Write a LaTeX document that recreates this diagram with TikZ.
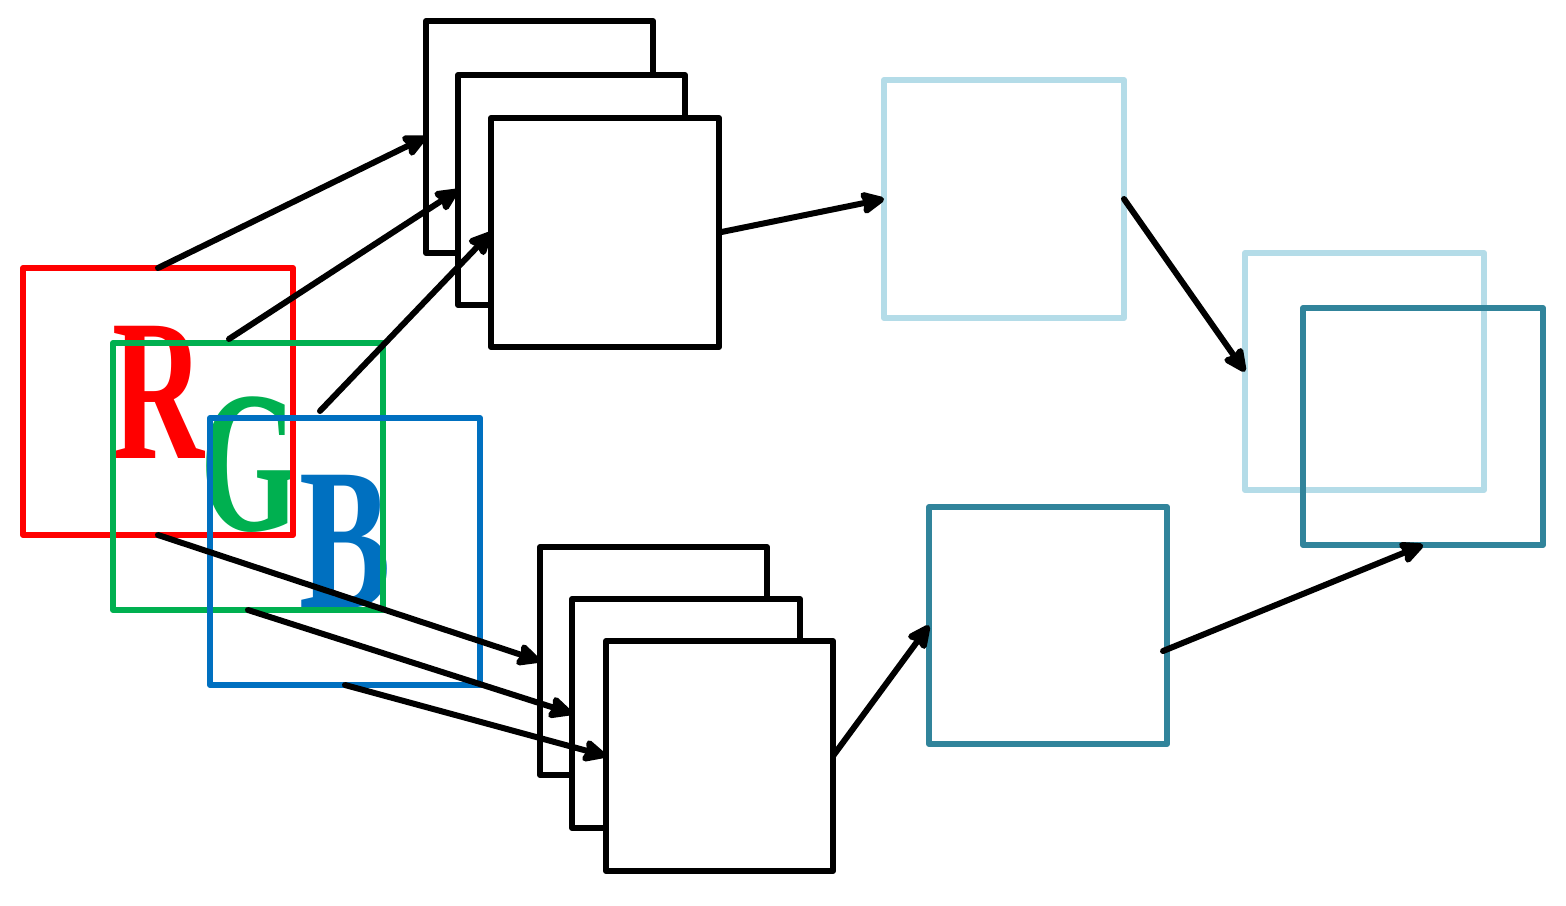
\documentclass[tikz,border=0pt]{standalone}
\usepackage{fontspec}
\setmainfont{Liberation Serif}
\newfontfamily\letterfont{Liberation Serif Bold}
\usetikzlibrary{fit,arrows.meta}
\definecolor{cred}{HTML}{FF0000}
\definecolor{cgreen}{HTML}{00B050}
\definecolor{cblue}{HTML}{0070C0}
\definecolor{clight}{HTML}{B4DCE8}
\definecolor{cteal}{HTML}{31849B}
\tikzset{
  box/.style={draw, line width=3pt, inner sep=0pt, outer sep=0pt, line join=round, fill=white},
  obox/.style={draw, line width=3pt, inner sep=0pt, outer sep=0pt, line join=round},
  arr/.style={draw, line width=3pt, line cap=round, -{Stealth[length=14pt,width=13pt,inset=2pt,round]}},
  letter/.style={inner sep=0pt, anchor=base, font=\fontsize{101}{101}\letterfont},
}
\begin{document}
\begin{tikzpicture}[x=0.5pt,y=-0.5pt]
\useasboundingbox (0,0) rectangle (1566,905);
% letters (under the boxes)
\node[letter, text=cred] (R) at (158,458) {\scalebox{0.63}[1]{R}};
\node[letter, text=cgreen] (G) at (250,530) {\scalebox{0.63}[1]{G}};
\node[letter, text=cblue] (B) at (345,607) {\scalebox{0.68}[1]{B}};
% RGB boxes
\node[obox, draw=cred, fit={(23,268) (293,535)}] (red) {};
\node[obox, draw=cgreen, fit={(113,343) (383,610)}] (green) {};
\node[obox, draw=cblue, fit={(210,418) (480,685)}] (blue) {};
% top stack
\node[box, fit={(426,21) (653,253)}] (t1) {};
\node[box, fit={(458,75) (685,305)}] (t2) {};
\node[box, fit={(491,118) (719,347)}] (t3) {};
% bottom stack
\node[box, fit={(540,547) (767,775)}] (b1) {};
\node[box, fit={(572,599) (800,828)}] (b2) {};
\node[box, fit={(606,641) (833,871)}] (b3) {};
% coloured boxes
\node[obox, draw=clight, fit={(884,80) (1124,318)}] (lb) {};
\node[obox, draw=cteal, fit={(929,507) (1167,744)}] (bt) {};
\node[obox, draw=clight, fit={(1245,253) (1484,490)}] (rlb) {};
\node[obox, draw=cteal, fit={(1303,308) (1543,545)}] (rt) {};
% arrow start points
\coordinate (s2) at (229,339);
\coordinate (s3) at (320,411);
\coordinate (s10) at (1163,651);
% arrows
\draw[arr] (red.north) -- (t1.west);
\draw[arr] (s2) -- (t2.west);
\draw[arr] (s3) -- (t3.west);
\draw[arr] (t3.east) -- (lb.west);
\draw[arr] (lb.east) -- (rlb.west);
\draw[arr] (red.south) -- (b1.west);
\draw[arr] (green.south) -- (b2.west);
\draw[arr] (blue.south) -- (b3.west);
\draw[arr] (b3.east) -- (bt.west);
\draw[arr] (s10) -- (rt.south);
\end{tikzpicture}
\end{document}
